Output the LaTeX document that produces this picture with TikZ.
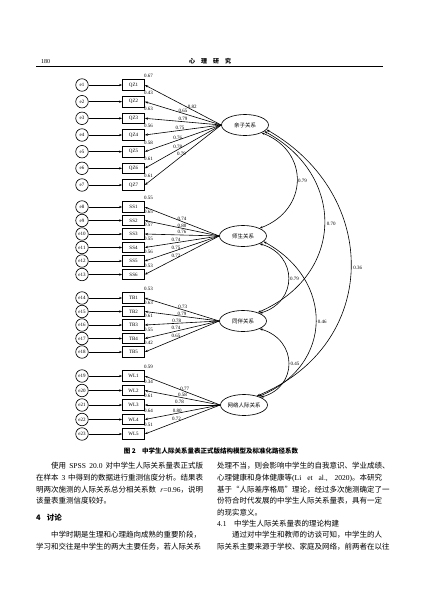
\documentclass[tikz,border=0pt]{standalone}
\usepackage{fontspec}
\setmainfont{Noto Sans CJK SC}
\newfontfamily\latin{Liberation Serif}
\newcommand\tnr[1]{{\latin #1}}
\XeTeXlinebreaklocale "zh"
\XeTeXlinebreakskip=0pt plus 2pt
\usetikzlibrary{arrows.meta,shapes.geometric}

% indicator rows: y / factor / item / error / R^2 / loading / label pos
\def\itemrows{%
  85/qz/QZ1/e1/0.67/0.82/0.38, 101.7/qz/QZ2/e2/0.43/0.65/0.5,
  118.3/qz/QZ3/e3/0.63/0.79/0.5, 135/qz/QZ4/e4/0.56/0.75/0.54,
  151.7/qz/QZ5/e5/0.58/0.76/0.57, 168.3/qz/QZ6/e6/0.61/0.78/0.57,
  185/qz/QZ7/e7/0.61/0.79/0.52,
  207/ss/SS1/e8/0.55/0.74/0.5, 220.5/ss/SS2/e9/0.65/0.80/0.5,
  234/ss/SS3/e10/0.57/0.76/0.5, 247.5/ss/SS4/e11/0.55/0.74/0.58,
  261/ss/SS5/e12/0.56/0.75/0.58, 274.5/ss/SS6/e13/0.53/0.72/0.58,
  298/tb/TB1/e14/0.53/0.73/0.49, 311.5/tb/TB2/e15/0.63/0.79/0.5,
  325/tb/TB3/e16/0.61/0.78/0.57, 338.5/tb/TB4/e17/0.55/0.74/0.58,
  352/tb/TB5/e18/0.42/0.65/0.58,
  376/wl/WL1/e19/0.59/0.77/0.47, 390.5/wl/WL2/e20/0.34/0.58/0.5,
  405/wl/WL3/e21/0.61/0.78/0.54, 419.5/wl/WL4/e22/0.64/0.80/0.57,
  434/wl/WL5/e23/0.51/0.72/0.58}

\begin{document}
\begin{tikzpicture}[x=1pt, y=-1pt, >={Stealth[length=3.2pt,width=2.3pt]},
  errnode/.style={circle, draw, line width=0.65pt, minimum size=12.5pt,
    inner sep=0pt, font=\latin\fontsize{5}{5}\selectfont},
  itembox/.style={rectangle, draw, line width=0.65pt, fill=white,
    minimum width=22pt, minimum height=10.5pt, inner sep=0pt,
    font=\latin\fontsize{5}{5}\selectfont},
  latent/.style={ellipse, draw, line width=0.65pt, minimum width=47pt,
    minimum height=21pt, inner sep=0pt, font=\fontsize{5.5}{5.5}\selectfont},
  coef/.style={font=\latin\fontsize{5}{5}\selectfont, inner sep=0.8pt},
  link/.style={line width=0.6pt},
  bodyline/.style={anchor=west, inner sep=0pt, font=\fontsize{7.5}{7.5}\selectfont}]
  \useasboundingbox (0,0) rectangle (427,603);

  % ---- running head ------------------------------------------------------
  \node[anchor=west, inner sep=0pt, font=\latin\fontsize{6}{6}\selectfont]
    (pageno) at (41,62) {180};
  \node[inner sep=0pt, font=\bfseries\fontsize{6}{6}\selectfont]
    (journal) at (210,61.5) {心\quad 理\quad 研\quad 究};
  \draw[line width=0.8pt] (36,66.5) -- (383,66.5);

  % ---- the four factors --------------------------------------------------
  \node[latent] (qz) at (245,125) {亲子关系};
  \node[latent] (ss) at (243,236) {师生关系};
  \node[latent] (tb) at (243,321) {同伴关系};
  \node[latent] (wl) at (244,405) {网络人际关系};

  % ---- R^2 values first, so the boxes sit on top -------------------------
  \foreach \y/\f/\i/\e/\r/\l/\p in \itemrows {
    \node[coef] (r-\i) at (148.5,\y-9) {\r};
  }

  % ---- items, errors and loadings ----------------------------------------
  \foreach \y/\f/\i/\e/\r/\l/\p in \itemrows {
    \node[itembox] (\i) at (133.5,\y) {\i};
    \node[errnode] (\e) at (82,\y) {\e};
    \draw[link,->] (\e) -- (\i);
    \draw[link,->] (\f.west) -- (\i.east)
      node[coef, pos=\p, above] (l-\i) {\l};
  }

  % ---- factor correlations -----------------------------------------------
  \draw[link,<->] (qz.-25) .. controls (310,152) and (308,210) .. (ss.25)
    node[coef, pos=0.5, right] (c-qz-ss) {0.79};
  \draw[link,<->] (qz.-18) .. controls (346,175) and (345,275) .. (tb.30)
    node[coef, pos=0.5, right=1.5pt] (c-qz-tb) {0.70};
  \draw[link,<->] (qz.-12) .. controls (381,195) and (380,345) .. (wl.35)
    node[coef, pos=0.5, right=1.5pt] (c-qz-wl) {0.36};
  \draw[link,<->] (ss.-25) .. controls (298,255) and (298,302) .. (tb.25)
    node[coef, pos=0.5, right=0.5pt] (c-ss-tb) {0.79};
  \draw[link,<->] (ss.-15) .. controls (334,280) and (334,365) .. (wl.30)
    node[coef, pos=0.5, right=1pt] (c-ss-wl) {0.46};
  \draw[link,<->] (tb.-25) .. controls (298,340) and (298,387) .. (wl.25)
    node[coef, pos=0.5, right=1pt] (c-tb-wl) {0.45};

  % ---- caption -----------------------------------------------------------
  \node[inner sep=0pt, font=\bfseries\fontsize{6.5}{6.5}\selectfont]
    (caption) at (211,451) {图 2\hspace{1em}中学生人际关系量表正式版结构模型及标准化路径系数};

  % ---- body text, left column --------------------------------------------
  \node[bodyline] (left1) at (51,466)
    {\makebox[152pt][s]{使用 \tnr{SPSS 20.0} 对中学生人际关系量表正式版}};
  \node[bodyline] (left2) at (36,478)
    {\makebox[167pt][s]{在样本 \tnr{3} 中得到的数据进行重测信度分析。结果表}};
  \node[bodyline] (left3) at (36,489.5)
    {\makebox[167pt][s]{明两次施测的人际关系总分相关系数 \tnr{\textit{r}=0.96}，说明}};
  \node[bodyline] (left4) at (36,501) {该量表重测信度较好。};
  \node[bodyline, font=\bfseries\fontsize{7.5}{7.5}\selectfont]
    (sec4) at (36,518) {4\hspace{0.8em}讨论};
  \node[bodyline] (left5) at (51,535)
    {\makebox[152pt][s]{中学时期是生理和心理趋向成熟的重要阶段，}};
  \node[bodyline] (left6) at (36,546.5)
    {\makebox[167pt][s]{学习和交往是中学生的两大主要任务，若人际关系}};

  % ---- body text, right column -------------------------------------------
  \node[bodyline] (right1) at (217,466)
    {\makebox[165pt][s]{处理不当，则会影响中学生的自我意识、学业成绩、}};
  \node[bodyline] (right2) at (217,478)
    {\makebox[165pt][s]{心理健康和身体健康等\tnr{(Li et al., 2020)}。本研究}};
  \node[bodyline] (right3) at (217,489.5)
    {\makebox[165pt][s]{基于“人际差序格局”理论，经过多次施测确定了一}};
  \node[bodyline] (right4) at (217,501)
    {\makebox[165pt][s]{份符合时代发展的中学生人际关系量表，具有一定}};
  \node[bodyline] (right5) at (217,513) {的现实意义。};
  \node[bodyline] (sec41) at (217,524) {\tnr{4.1}\hspace{1em}中学生人际关系量表的理论构建};
  \node[bodyline] (right6) at (232,535)
    {\makebox[150pt][s]{通过对中学生和教师的访谈可知，中学生的人}};
  \node[bodyline] (right7) at (217,546.5)
    {\makebox[165pt][s]{际关系主要来源于学校、家庭及网络，前两者在以往}};
\end{tikzpicture}
\end{document}
